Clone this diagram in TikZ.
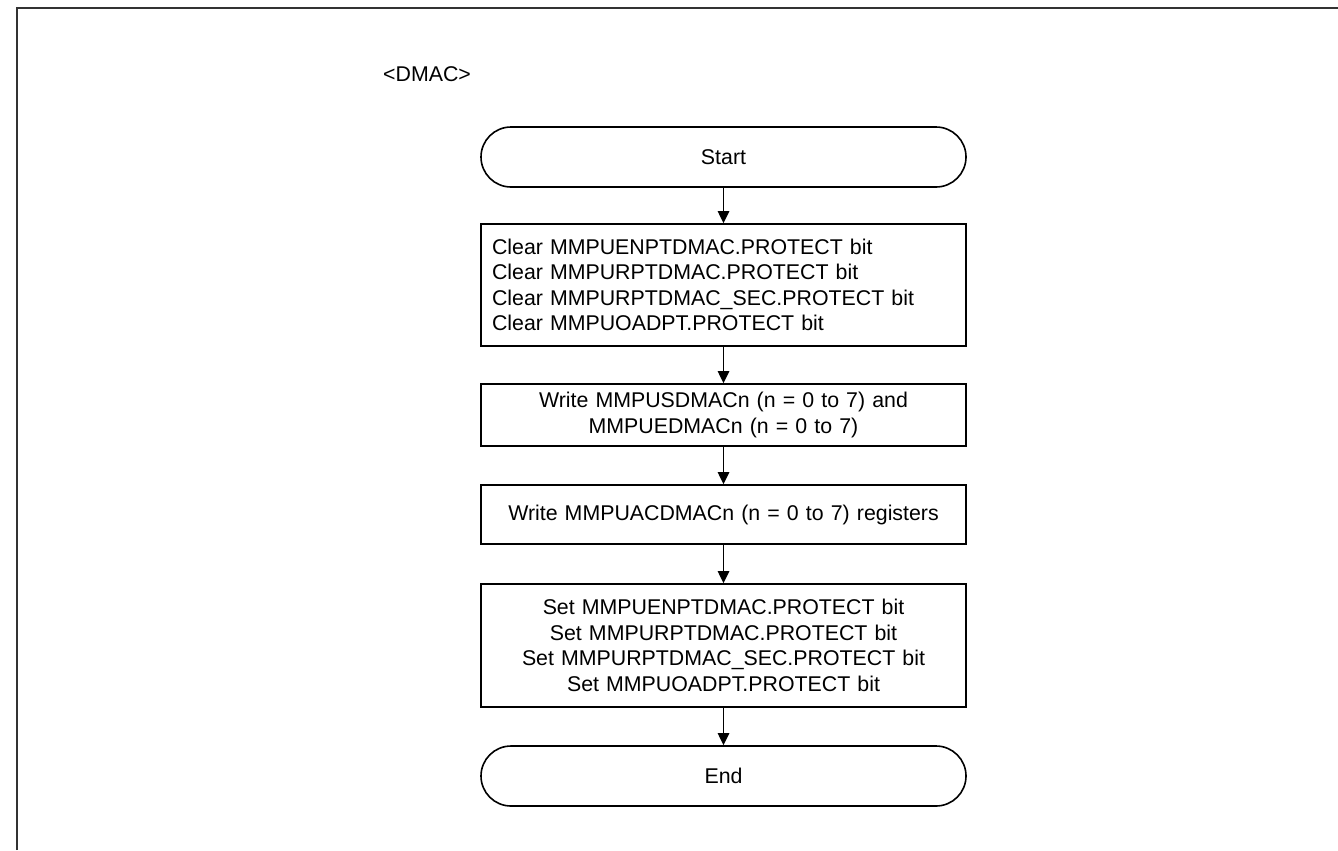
\documentclass[tikz,border=0pt]{standalone}
\usepackage{fontspec}
\setmainfont{Liberation Sans}
\usetikzlibrary{arrows.meta,positioning}

\begin{document}
\begin{tikzpicture}[
  x=0.75pt, y=-0.75pt,
  font=\fontsize{16}{19.1}\selectfont,
  term/.style={draw=black, line width=1.2pt, rounded corners=22.5pt, minimum width=363.75pt,
               minimum height=45pt, inner sep=0pt},
  proc/.style={draw=black, line width=1.2pt, align=center, text width=347.25pt,
               inner xsep=8.25pt, inner ysep=0pt},
  edge/.style={draw=black, line width=1.2pt, -{Triangle[length=9pt,width=8.5pt]}},
  frame/.style={draw=black!80, line width=1.5pt}
]
\useasboundingbox (0,0) rectangle (1338,850);
\draw[frame] (17,850) -- (17,7.5) -- (1338,7.5);
\node (dmac) at (427,74) {<DMAC>};
\node[term] (start) at (723.5,157) {Start};
\node[proc, align=left, minimum height=91.5pt] (clr) at (723.5,285)
  {Clear MMPUENPTDMAC.PROTECT bit\\Clear MMPURPTDMAC.PROTECT bit\\Clear MMPURPTDMAC\_SEC.PROTECT bit\\Clear MMPUOADPT.PROTECT bit};
\node[proc, minimum height=46.5pt] (wrse) at (723.5,415)
  {Write MMPUSDMACn (n = 0 to 7) and\\MMPUEDMACn (n = 0 to 7)};
\node[proc, minimum height=44.25pt] (wrac) at (723.5,514.5)
  {Write MMPUACDMACn (n = 0 to 7) registers};
\node[proc, minimum height=92.25pt] (set) at (723.5,645.5)
  {Set MMPUENPTDMAC.PROTECT bit\\Set MMPURPTDMAC.PROTECT bit\\Set MMPURPTDMAC\_SEC.PROTECT bit\\Set MMPUOADPT.PROTECT bit};
\node[term] (end) at (723.5,776) {End};
\draw[edge] (start) -- (clr);
\draw[edge] (clr) -- (wrse);
\draw[edge] (wrse) -- (wrac);
\draw[edge] (wrac) -- (set);
\draw[edge] (set) -- (end);
\end{tikzpicture}
\end{document}
